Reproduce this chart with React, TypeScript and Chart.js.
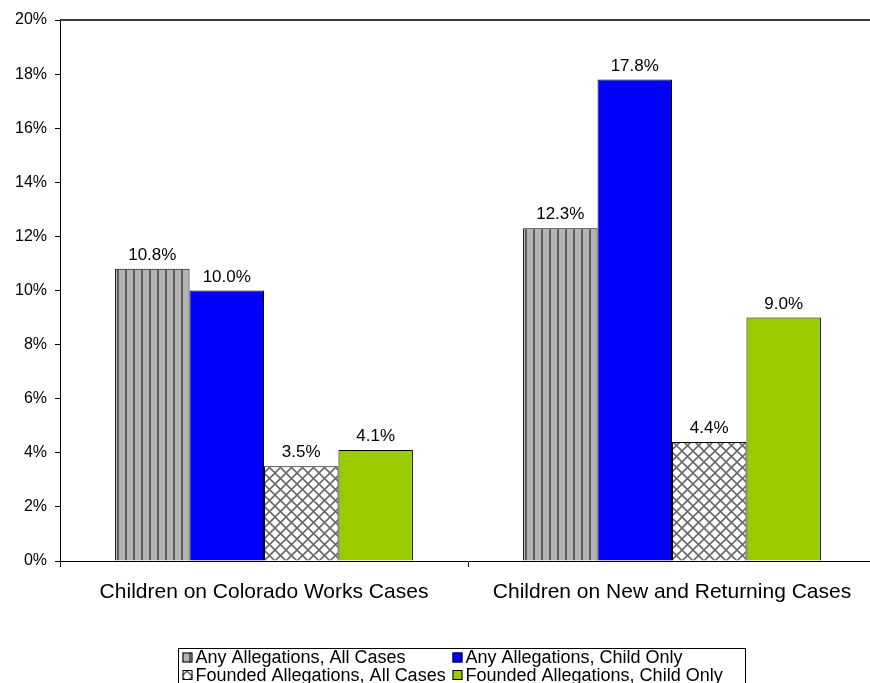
import React, { useEffect, useRef } from 'react';
import { Chart, registerables } from 'chart.js';

Chart.register(...registerables);

const categories = ['Children on Colorado Works Cases', 'Children on New and Returning Cases'];
const seriesNames = [
  'Any Allegations, All Cases',
  'Any Allegations, Child Only',
  'Founded Allegations, All Cases',
  'Founded Allegations, Child Only',
];
const anyAllegationsAllCases = [10.8, 12.3];
const anyAllegationsChildOnly = [10.0, 17.8];
const foundedAllegationsAllCases = [3.5, 4.4];
const foundedAllegationsChildOnly = [4.1, 9.0];
const yMin = 0;
const yMax = 20;
const yStep = 2;

const FONT = '"Liberation Sans", Arial, sans-serif';

function stripePattern(ctx: CanvasRenderingContext2D) {
  const c = document.createElement('canvas');
  c.width = 8;
  c.height = 8;
  const g = c.getContext('2d')!;
  g.fillStyle = '#b4b4b4';
  g.fillRect(0, 0, 8, 8);
  g.fillStyle = '#5c5c5c';
  g.fillRect(5, 0, 2, 8);
  return ctx.createPattern(c, 'repeat')!;
}

function crossPattern(ctx: CanvasRenderingContext2D) {
  const c = document.createElement('canvas');
  c.width = 11;
  c.height = 11;
  const g = c.getContext('2d')!;
  g.fillStyle = '#ffffff';
  g.fillRect(0, 0, 11, 11);
  g.strokeStyle = '#6a6a6a';
  g.lineWidth = 1.6;
  g.beginPath();
  g.moveTo(-1, -1);
  g.lineTo(12, 12);
  g.moveTo(12, -1);
  g.lineTo(-1, 12);
  g.stroke();
  return ctx.createPattern(c, 'repeat')!;
}

export default function App() {
  const ref = useRef<HTMLCanvasElement>(null);

  useEffect(() => {
    document.body.style.margin = '0';
    document.body.style.overflow = 'hidden';
    document.documentElement.style.overflow = 'hidden';
    const canvas = ref.current!;
    const ctx = canvas.getContext('2d')!;
    const stripes = stripePattern(ctx);
    const cross = crossPattern(ctx);
    const fills: any[] = [stripes, '#0000ff', cross, '#99cc00'];
    const values = [
      anyAllegationsAllCases,
      anyAllegationsChildOnly,
      foundedAllegationsAllCases,
      foundedAllegationsChildOnly,
    ];

    const labelPlugin = {
      id: 'valueLabels',
      afterDatasetsDraw(chart: any) {
        const c = chart.ctx;
        c.save();
        c.font = `17px ${FONT}`;
        c.fillStyle = '#000';
        c.textAlign = 'center';
        c.textBaseline = 'alphabetic';
        chart.data.datasets.forEach((ds: any, i: number) => {
          const meta = chart.getDatasetMeta(i);
          meta.data.forEach((bar: any, j: number) => {
            c.fillText(ds.data[j].toFixed(1) + '%', bar.x, bar.y - 9);
          });
        });
        c.restore();
      },
    };

    const framePlugin = {
      id: 'frameAndLegend',
      afterDraw(chart: any) {
        const c = chart.ctx;
        const a = chart.chartArea;
        c.save();
        // top frame line
        c.strokeStyle = '#3c3c3c';
        c.lineWidth = 2;
        c.beginPath();
        c.moveTo(a.left, a.top);
        c.lineTo(chart.width, a.top);
        c.stroke();

        // legend
        const lx = 178.5;
        const ly = 648.5;
        const lw = 567;
        const lh = 45;
        c.strokeStyle = '#000';
        c.lineWidth = 1;
        c.strokeRect(lx, ly, lw, lh);
        c.font = `18px ${FONT}`;
        c.textBaseline = 'middle';
        c.textAlign = 'left';
        const cols = [lx + 4, lx + 274];
        const rows = [ly + 9, ly + 26.5];
        chart.data.datasets.forEach((ds: any, i: number) => {
          const x = cols[i % 2];
          const y = rows[Math.floor(i / 2)];
          c.fillStyle = ds.backgroundColor;
          c.fillRect(x, y - 5, 10, 10);
          c.strokeStyle = '#000';
          c.strokeRect(x + 0.5, y - 4.5, 9, 9);
          c.fillStyle = '#000';
          c.fillText(ds.label, x + 13, y + 1);
        });
        c.restore();
      },
    };

    const chart = new Chart(canvas, {
      type: 'bar',
      data: {
        labels: categories,
        datasets: seriesNames.map((name, i) => ({
          label: name,
          data: values[i],
          backgroundColor: fills[i],
          borderColor: '#000',
          borderWidth: 1,
          barPercentage: 1,
          categoryPercentage: 0.73,
        })),
      },
      options: {
        responsive: false,
        animation: false,
        layout: { padding: { top: 20, right: 4, bottom: 0, left: 0 } },
        plugins: {
          legend: { display: false },
          tooltip: { enabled: false },
        },
        scales: {
          x: {
            grid: {
              offset: true,
              drawOnChartArea: false,
              drawTicks: true,
              tickLength: 6,
              color: '#000',
            },
            border: { display: true, color: '#000', width: 1 },
            ticks: {
              color: '#000',
              font: { family: FONT, size: 21 },
              padding: 13,
              maxRotation: 0,
            },
            afterFit(scale: any) {
              scale.height = 122;
            },
          },
          y: {
            min: yMin,
            max: yMax,
            grid: {
              drawOnChartArea: false,
              drawTicks: true,
              tickLength: 5,
              color: '#000',
            },
            border: { display: true, color: '#000', width: 1 },
            ticks: {
              stepSize: yStep,
              color: '#000',
              font: { family: FONT, size: 16 },
              padding: 8,
              callback: (v: any) => v + '%',
            },
            afterFit(scale: any) {
              scale.width = 60;
            },
          },
        },
      },
      plugins: [labelPlugin, framePlugin],
    });
    return () => chart.destroy();
  }, []);

  return (
    <div style={{ width: 880, height: 683, overflow: 'hidden' }}>
      <canvas ref={ref} width={880} height={683} style={{ display: 'block' }} />
    </div>
  );
}
